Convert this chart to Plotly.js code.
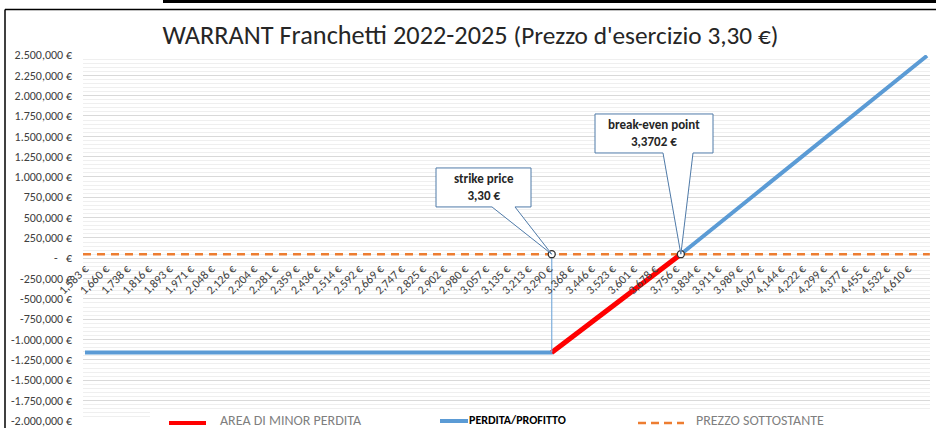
<!DOCTYPE html>
<html><head><meta charset="utf-8">
<script src="https://cdn.plot.ly/plotly-3.0.1.min.js"></script>
<style>html,body{margin:0;padding:0;background:#fff;} #chart{width:936px;height:428px;}</style>
</head><body><div id="chart"></div>
<script>
// ---- data ----
const xTickValues = [1.583,1.660,1.738,1.816,1.893,1.971,2.048,2.126,2.204,2.281,2.359,2.436,2.514,2.592,2.669,2.747,2.825,2.902,2.980,3.057,3.135,3.213,3.290,3.368,3.446,3.523,3.601,3.678,3.756,3.834,3.911,3.989,4.067,4.144,4.222,4.299,4.377,4.455,4.532,4.610];
const yTickValues = [2500000,2250000,2000000,1750000,1500000,1250000,1000000,750000,500000,250000,0,-250000,-500000,-750000,-1000000,-1250000,-1500000,-1750000,-2000000];
const yTickLabels = ["2.500,000 €","2.250,000 €","2.000,000 €","1.750,000 €","1.500,000 €","1.250,000 €","1.000,000 €","750,000 €","500,000 €","250,000 €","-   €","-250,000 €","-500,000 €","-750,000 €","-1.000,000 €","-1.250,000 €","-1.500,000 €","-1.750,000 €","-2.000,000 €"];
const perditaProfittoX = [1.583, 3.30, 3.775, 4.6805];
const perditaProfittoY = [-1160000, -1160000, 50000, 2490000];
const minorPerditaX = [3.30, 3.775];
const minorPerditaY = [-1160000, 50000];
const sottostanteX = [1.5756, 4.6909];
const sottostanteY = [50000, 50000];
const strikePrice = 3.30, strikeLevel = 50000, flatLevel = -1160000;
const breakEven = 3.775, breakEvenLevel = 50000;
const calloutLabels = ["strike price","break-even point"];
const calloutValues = ["3,30 €","3,3702 €"];
const legendNames = ["AREA DI MINOR PERDITA","PERDITA/PROFITTO","PREZZO SOTTOSTANTE"];

// ---- pixel helpers for layout positions ----
const L=83, R=930, T=55, B=421, W=936, H=428;
const px = v => (v-L)/(R-L);          // pixel x -> paper
const py = v => (B-v)/(B-T);          // pixel y -> paper
const XPX0=85, XV0=1.583, XPP=0.07762/21.1;
const dx = v => XV0 + (v-XPX0)*XPP;   // pixel x -> data
const dy = v => (B-v)/(B-T)*4500000 - 2000000; // pixel y -> data

const FONT = "Calibri, Carlito, Lato, sans-serif";
const BLUE = "#5B9BD5", RED = "#FF0000", ORANGE = "#ED7D31";

const traces = [
  {x: sottostanteX, y: sottostanteY, mode:'lines', line:{color:ORANGE, width:2.5, dash:'8px,6px'}, hoverinfo:'skip', name:legendNames[2]},
  {x: perditaProfittoX, y: perditaProfittoY, mode:'lines', line:{color:BLUE, width:4}, name:legendNames[1]},
  {x: minorPerditaX, y: minorPerditaY, mode:'lines', line:{color:RED, width:5}, name:legendNames[0]},
  {x: [strikePrice, strikePrice], y: [strikeLevel, flatLevel], mode:'lines', line:{color:'#7EAEDC', width:1.2}, hoverinfo:'skip'},
  {x: [strikePrice, breakEven], y: [strikeLevel, breakEvenLevel], mode:'markers',
   marker:{symbol:'circle', size:7, color:'#ffffff', line:{color:'#303030', width:1.3}}, hoverinfo:'skip'}
];

function calloutPath(x1,x2,y1,y2,b1,b2,tx,ty){
  return `M${x1},${y1} L${x2},${y1} L${x2},${y2} L${b2},${y2} L${tx},${ty} L${b1},${y2} L${x1},${y2} Z`;
}

const shapes = [
  // outer frame lines
  {type:'rect', xref:'paper', yref:'paper', x0:px(163), x1:px(936), y0:py(0), y1:py(3), fillcolor:'#000', line:{width:0}},
  {type:'line', xref:'paper', yref:'paper', x0:px(5), x1:px(936), y0:py(9.5), y1:py(9.5), line:{color:'#000', width:1.5}},
  {type:'line', xref:'paper', yref:'paper', x0:px(5), x1:px(5), y0:py(9.5), y1:py(428), line:{color:'#000', width:1.5}},
  // callouts
  {type:'path', xref:'x', yref:'y', path: calloutPath(dx(436),dx(531),dy(168),dy(207),dx(492),dx(515),strikePrice,strikeLevel),
   fillcolor:'#fff', line:{color:'#4F7AA8', width:1}},
  {type:'path', xref:'x', yref:'y', path: calloutPath(dx(595),dx(713),dy(114),dy(153),dx(663),dx(693),breakEven,breakEvenLevel),
   fillcolor:'#fff', line:{color:'#4F7AA8', width:1}},
  // legend background
  {type:'rect', xref:'paper', yref:'paper', x0:px(150), x1:px(930), y0:py(411), y1:py(428), fillcolor:'#fff', line:{width:0}},
  // legend swatches
  {type:'line', xref:'paper', yref:'paper', x0:px(169), x1:px(206), y0:py(423), y1:py(423), line:{color:RED, width:4}},
  {type:'line', xref:'paper', yref:'paper', x0:px(440), x1:px(468), y0:py(421), y1:py(421), line:{color:BLUE, width:4}},
  {type:'line', xref:'paper', yref:'paper', x0:px(638), x1:px(684), y0:py(423), y1:py(423), line:{color:ORANGE, width:2.5, dash:'8px,5px'}}
];

const annotations = [
  {xref:'x', yref:'y', x:dx(483.5), y:dy(187), text:`<b>${calloutLabels[0]}</b><br><b>${calloutValues[0]}</b>`, showarrow:false,
   font:{family:FONT, size:13, color:'#262626'}, xanchor:'center', yanchor:'middle'},
  {xref:'x', yref:'y', x:dx(654), y:dy(133), text:`<b>${calloutLabels[1]}</b><br><b>${calloutValues[1]}</b>`, showarrow:false,
   font:{family:FONT, size:13, color:'#262626'}, xanchor:'center', yanchor:'middle'},
  {xref:'paper', yref:'paper', x:px(218), y:py(420), text:legendNames[0], showarrow:false, xanchor:'left', yanchor:'middle',
   font:{family:FONT, size:14, color:'#7F7F7F'}},
  {xref:'paper', yref:'paper', x:px(467), y:py(420), text:`<b>${legendNames[1]}</b>`, showarrow:false, xanchor:'left', yanchor:'middle',
   font:{family:FONT, size:12, color:'#000'}},
  {xref:'paper', yref:'paper', x:px(694), y:py(420), text:legendNames[2], showarrow:false, xanchor:'left', yanchor:'middle',
   font:{family:FONT, size:14, color:'#7F7F7F'}}
];

const layout = {
  width:W, height:H,
  margin:{l:L, r:W-R, t:T, b:H-B, pad:0},
  paper_bgcolor:'#fff', plot_bgcolor:'#fff',
  showlegend:false,
  title:{text:'WARRANT Franchetti 2022-2025 <span style="font-size:25.3px">(Prezzo d\'esercizio 3,30 €)</span>',
         font:{family:FONT, size:26.3, color:'#262626'}, xref:'paper', x:px(470.5), xanchor:'center',
         yref:'container', y:1-35/H, yanchor:'middle'},
  xaxis:{range:[dx(L), dx(R)], tickmode:'array', tickvals:xTickValues,
         ticktext:xTickValues.map(v => v.toFixed(3).replace('.',',') + ' €'),
         tickangle:-45, showgrid:false, zeroline:false, showline:false, ticks:'',
         anchor:'free', position:2000000/4500000,
         tickfont:{family:FONT, size:12, color:'#404040'}, fixedrange:true},
  yaxis:{range:[-2001500, 2500000], tickmode:'array', tickvals:yTickValues, ticktext:yTickLabels,
         showgrid:true, gridcolor:'#D9D9D9', gridwidth:1, zeroline:false, showline:false, ticks:'',
         ticklabelstandoff:10, ticklabeloverflow:'allow',
         minor:{dtick:50000, showgrid:true, gridcolor:'#EFEFEF', gridwidth:1},
         tickfont:{family:FONT, size:12, color:'#404040'}, fixedrange:true},
  shapes:shapes, annotations:annotations
};

Plotly.newPlot('chart', traces, layout, {displayModeBar:false, staticPlot:true});
</script></body></html>
